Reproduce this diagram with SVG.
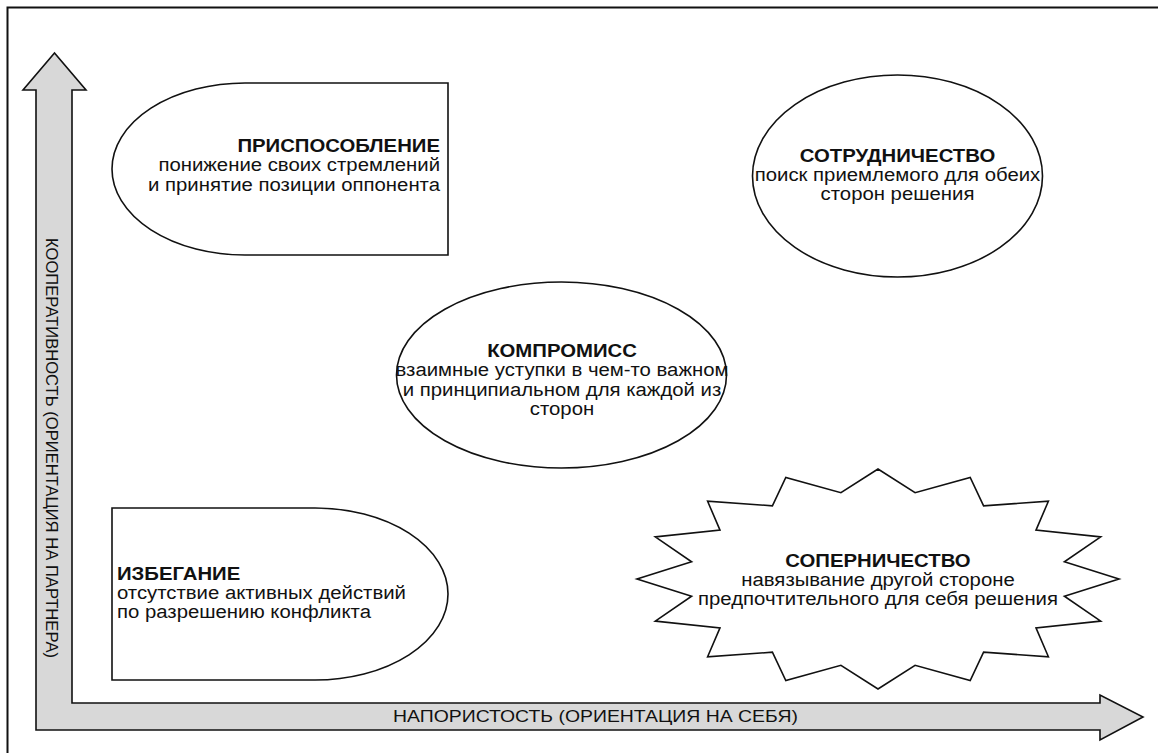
<svg xmlns="http://www.w3.org/2000/svg" width="1158" height="753" viewBox="0 0 1158 753">
<style>
.frame{fill:none;stroke:#111;stroke-width:2}
.axis{fill:#d8d8d8;stroke:#111;stroke-width:1.6;stroke-linejoin:miter}
.shape{fill:#fff;stroke:#111;stroke-width:1.6}
.t{font-family:"Liberation Sans",Arial,sans-serif;font-size:18px;fill:#111}
.b{font-weight:bold}
.ax{font-family:"Liberation Sans",Arial,sans-serif;font-size:16.5px;fill:#111}
</style>
<rect width="1158" height="753" fill="#fff"/>
<path class="frame" d="M7.5,753 V7.5 H1158"/>
<g id="axes">
<path class="axis" d="M36,730 L36,90 L23,90 L54.5,53 L86,90 L72,90 L72,703 L1100,703 L1100,695 L1143,717 L1100,740 L1100,730 Z"/>
<text class="ax" transform="translate(46 448) rotate(90)" text-anchor="middle" textLength="420" lengthAdjust="spacingAndGlyphs">КООПЕРАТИВНОСТЬ (ОРИЕНТАЦИЯ НА ПАРТНЕРА)</text>
<text class="ax" x="595.5" y="722" text-anchor="middle" textLength="405" lengthAdjust="spacingAndGlyphs">НАПОРИСТОСТЬ (ОРИЕНТАЦИЯ НА СЕБЯ)</text>
</g>
<g id="prisposoblenie">
<path class="shape" d="M448,83 L245,83 A133,86 0 0 0 245,255 L448,255 Z"/>
<g transform="translate(440 0) scale(1.13 1)">
<text class="t b" x="0" y="152" text-anchor="end">ПРИСПОСОБЛЕНИЕ</text>
<text class="t" x="0" y="171.5" text-anchor="end">понижение своих стремлений</text>
<text class="t" x="0" y="191" text-anchor="end">и принятие позиции оппонента</text>
</g>
</g>
<g id="sotrudnichestvo">
<ellipse class="shape" cx="897.5" cy="176" rx="145" ry="101"/>
<g transform="translate(897.5 0) scale(1.13 1)">
<text class="t b" x="0" y="162" text-anchor="middle">СОТРУДНИЧЕСТВО</text>
<text class="t" x="0" y="181" text-anchor="middle">поиск приемлемого для обеих</text>
<text class="t" x="0" y="200.5" text-anchor="middle">сторон решения</text>
</g>
</g>
<g id="kompromiss">
<ellipse class="shape" cx="561.5" cy="375" rx="165" ry="93"/>
<g transform="translate(562 0) scale(1.13 1)">
<text class="t b" x="0" y="357" text-anchor="middle">КОМПРОМИСС</text>
<text class="t" x="0" y="376.5" text-anchor="middle">взаимные уступки в чем-то важном</text>
<text class="t" x="0" y="396" text-anchor="middle">и принципиальном для каждой из</text>
<text class="t" x="0" y="415.5" text-anchor="middle">сторон</text>
</g>
</g>
<g id="izbeganie">
<path class="shape" d="M112,508 L315,508 A133,86 0 0 1 315,680 L112,680 Z"/>
<g transform="translate(117 0) scale(1.13 1)">
<text class="t b" x="0" y="580">ИЗБЕГАНИЕ</text>
<text class="t" x="0" y="599">отсутствие активных действий</text>
<text class="t" x="0" y="618">по разрешению конфликта</text>
</g>
</g>
<g id="sopernichestvo">
<polygon class="shape" points="1119,579 1064.4,561.8 1100.7,536.9 1036,530.1 1048.4,501.2 983.6,505.8 970.2,477.4 915.1,492.7 878,469 840.9,492.7 785.8,477.4 772.4,505.8 707.6,501.2 720,530.1 655.3,536.9 691.6,561.8 637,579 691.6,596.2 655.3,621.1 720,627.9 707.6,656.8 772.4,652.2 785.8,680.6 840.9,665.3 878,689 915.1,665.3 970.2,680.6 983.6,652.2 1048.4,656.8 1036,627.9 1100.7,621.1 1064.4,596.2"/>
<g transform="translate(878 0) scale(1.13 1)">
<text class="t b" x="0" y="567" text-anchor="middle">СОПЕРНИЧЕСТВО</text>
<text class="t" x="0" y="586" text-anchor="middle">навязывание другой стороне</text>
<text class="t" x="0" y="605.5" text-anchor="middle">предпочтительного для себя решения</text>
</g>
</g>
</svg>
